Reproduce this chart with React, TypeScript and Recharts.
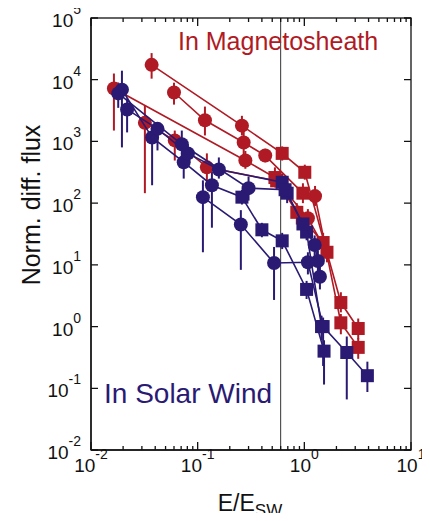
import React from 'react';
import { ComposedChart, Scatter, XAxis, YAxis, ErrorBar, ReferenceLine } from 'recharts';

const RED = '#B01A24';
const BLUE = '#2A1A73';
const FONT = '"Liberation Sans", Arial, Helvetica, sans-serif';

// [E/Esw, flux, lower bound, upper bound, marker c=circle s=square]
const red1 = [[0.037, 17400, 10400, 27000, 'c'], [0.26, 1800, 1250, 2600, 'c'], [0.62, 640, 490, 830, 's'], [1.01, 316, 240, 420, 's'], [2.2, 2.45, 1.7, 3.6, 's'], [3.2, 0.93, 0.62, 1.35, 's']];
const red2 = [[0.06, 6200, 3950, 8950, 'c'], [0.117, 2200, 1250, 3670, 'c'], [0.27, 960, 610, 1500, 'c'], [0.43, 590, 460, 760, 'c'], [0.97, 145, 100, 210, 's'], [1.26, 130, 90, 190, 'c'], [2.2, 1.15, 0.75, 1.6, 's'], [3.2, 0.46, 0.3, 0.65, 's']];
const red3 = [[0.0164, 7200, 1500, 12600, 'c'], [0.28, 490, 360, 700, 'c'], [0.53, 260, 180, 380, 's'], [0.85, 71, 45, 100, 's'], [1.5, 23, 15, 33, 's']];
const red4 = [[0.032, 2000, 145, 3800, 'c'], [0.061, 1040, 490, 1500, 'c'], [0.122, 380, 195, 640, 'c'], [0.55, 230, 170, 320, 's'], [1.08, 57, 40, 80, 'c'], [1.63, 16, 11, 23, 's']];

const blue1 = [[0.0195, 6900, 800, 14000, 'c'], [0.0374, 1160, 195, 1800, 'c'], [0.074, 460, 250, 650, 'c'], [0.136, 195, 40, 320, 'c'], [0.26, 125, 95, 165, 's'], [0.4, 37, 28, 48, 's'], [0.62, 24.5, 18, 33, 's'], [1.05, 4, 2.8, 5.5, 's'], [1.53, 0.4, 0.115, 0.6, 's']];
const blue2 = [[0.0218, 3300, 1400, 5000, 'c'], [0.042, 1600, 715, 1950, 'c'], [0.081, 640, 420, 900, 'c'], [0.158, 350, 250, 550, 'c'], [0.62, 218, 150, 300, 's'], [0.69, 145, 100, 210, 's'], [1.05, 34, 25, 46, 's'], [1.45, 1.0, 0.6, 1.5, 's']];
const blue3 = [[0.018, 6000, 3500, 9000, 'c'], [0.071, 900, 500, 1500, 'c'], [0.3, 175, 110, 270, 'c'], [0.66, 165, 120, 220, 's'], [0.97, 46, 30, 65, 's'], [1.25, 21, 14, 30, 'c'], [1.34, 11.5, 7.5, 17, 'c'], [1.4, 6.4, 4, 10, 'c']];
const blue4 = [[0.112, 125, 16, 234, 'c'], [0.254, 45, 8.3, 77, 'c'], [0.52, 10.7, 2.7, 19.5, 'c'], [1.08, 11, 7, 16, 'c'], [1.5, 1.0, 0.23, 1.4, 's'], [2.5, 0.38, 0.066, 0.69, 's'], [3.9, 0.16, 0.087, 0.27, 's']];

const redSeries = [red1, red2, red3, red4];
const blueSeries = [blue1, blue2, blue3, blue4];

const X_MIN = 0.01;
const X_MAX = 10;
const Y_MIN = 0.01;
const Y_MAX = 1e5;
const xMajor = [0.01, 0.1, 1, 10];
const xMinor = [2, 3, 4, 5, 6, 7, 8, 9].flatMap((k) => [k * 0.01, k * 0.1, k * 1]);
const xTicks = [...xMajor, ...xMinor].sort((a, b) => a - b);
const yTicks = [1e-2, 1e-1, 1, 10, 100, 1e3, 1e4, 1e5];
const boundaryE = 0.6;

// chart layout
const W = 430;
const H = 521;
const M_TOP = 18;
const M_RIGHT = 19;
const Y_AXIS_W = 91;
const X_AXIS_H = 71;
const PLOT_W = W - M_RIGHT - Y_AXIS_W;
const PLOT_H = H - M_TOP - X_AXIS_H;

const toRows = (s: any[]) =>
  s.map(([x, y, lo, hi, m]) => ({ x, y, err: [y - lo, hi - y], m }));

const isMajor = (v: number) => Math.abs(Math.log10(v) - Math.round(Math.log10(v))) < 1e-6;
const expOf = (v: number) => Math.round(Math.log10(v));

const AX = '#111';

const XTickBottom = (p: any) => {
  const { x, y, payload } = p;
  const v = payload.value;
  const major = isMajor(v);
  const len = major ? 8 : 4;
  const yTop = y - PLOT_H;
  return (
    <g>
      <path d={`M${x},${y}V${y - len}M${x},${yTop}V${yTop + len}`} stroke={AX} strokeWidth={1.3} fill="none" />
      {major && (
        <text x={x} y={y + 22} textAnchor="middle" fontSize={19} fill="#111" fontFamily={FONT}>
          10<tspan dy={-13} fontSize={14}>{expOf(v)}</tspan>
        </text>
      )}
    </g>
  );
};

const YTickLeft = (p: any) => {
  const { x, y, payload } = p;
  const v = payload.value;
  const xRight = x + PLOT_W;
  return (
    <g>
      <path d={`M${x},${y}H${x + 7}M${xRight},${y}H${xRight - 7}`} stroke={AX} strokeWidth={1.3} fill="none" />
      <text x={x - 10} y={y + 9} textAnchor="end" fontSize={19} fill="#111" fontFamily={FONT}>
        10<tspan dy={-13} fontSize={14}>{expOf(v)}</tspan>
      </text>
    </g>
  );
};

const Marker = (props: any) => {
  const { cx, cy, payload, fill } = props;
  if (cx == null || cy == null || isNaN(cx) || isNaN(cy)) return <g />;
  if (payload && payload.m === 's') {
    return <rect x={cx - 6.5} y={cy - 6.5} width={13} height={13} fill={fill} />;
  }
  return <circle cx={cx} cy={cy} r={7} fill={fill} />;
};

export default function App() {
  const renderSeries = (s: any[], color: string, key: string) => (
    <Scatter
      key={key}
      data={toRows(s)}
      dataKey="y"
      xAxisId="b"
      yAxisId="l"
      fill={color}
      line={{ stroke: color, strokeWidth: 1.6 }}
      lineType="joint"
      shape={<Marker />}
      isAnimationActive={false}
    >
      <ErrorBar dataKey="err" direction="y" width={0} stroke={color} strokeWidth={2} isAnimationActive={false} />
    </Scatter>
  );

  return (
    <div style={{ position: 'relative', width: 414, height: 505 }}>
      <div style={{ position: 'absolute', left: -8, top: -8, width: W, height: H }}>
        <ComposedChart width={W} height={H} margin={{ top: M_TOP, right: M_RIGHT, bottom: 0, left: 0 }}>
          <XAxis
            xAxisId="b"
            dataKey="x"
            type="number"
            scale="log"
            domain={[X_MIN, X_MAX]}
            allowDataOverflow
            ticks={xTicks}
            interval={0}
            tick={<XTickBottom />}
            tickLine={false}
            tickSize={0}
            tickMargin={0}
            height={X_AXIS_H}
            axisLine={{ stroke: AX, strokeWidth: 1.3 }}
          />
          <YAxis
            yAxisId="l"
            dataKey="y"
            type="number"
            scale="log"
            domain={[Y_MIN, Y_MAX]}
            allowDataOverflow
            ticks={yTicks}
            interval={0}
            tick={<YTickLeft />}
            tickLine={false}
            tickSize={0}
            tickMargin={0}
            width={Y_AXIS_W}
            axisLine={{ stroke: AX, strokeWidth: 1.3 }}
          />
          <ReferenceLine x={boundaryE} xAxisId="b" yAxisId="l" stroke="#333" strokeWidth={1} />
          {redSeries.map((s, i) => renderSeries(s, RED, 'r' + i))}
          {blueSeries.map((s, i) => renderSeries(s, BLUE, 'b' + i))}
        </ComposedChart>
        <svg
          width={W}
          height={H}
          style={{ position: 'absolute', left: 0, top: 0, pointerEvents: 'none' }}
        >
          <rect
            x={Y_AXIS_W}
            y={M_TOP}
            width={PLOT_W}
            height={PLOT_H}
            fill="none"
            stroke={AX}
            strokeWidth={1.3}
          />
          <text x={178} y={50} fontSize={25} fill={RED} fontFamily={FONT}>In Magnetosheath</text>
          <text x={104} y={403} fontSize={28} fill={BLUE} fontFamily={FONT}>In Solar Wind</text>
          <text
            x={40}
            y={205}
            transform="rotate(-90, 40, 205)"
            textAnchor="middle"
            fontSize={25}
            fill="#111"
            fontFamily={FONT}
          >
            Norm. diff. flux
          </text>
          <text x={250} y={511} textAnchor="middle" fontSize={23} fill="#111" fontFamily={FONT}>
            E/E<tspan dy={5} fontSize={17}>SW</tspan>
          </text>
        </svg>
      </div>
    </div>
  );
}
